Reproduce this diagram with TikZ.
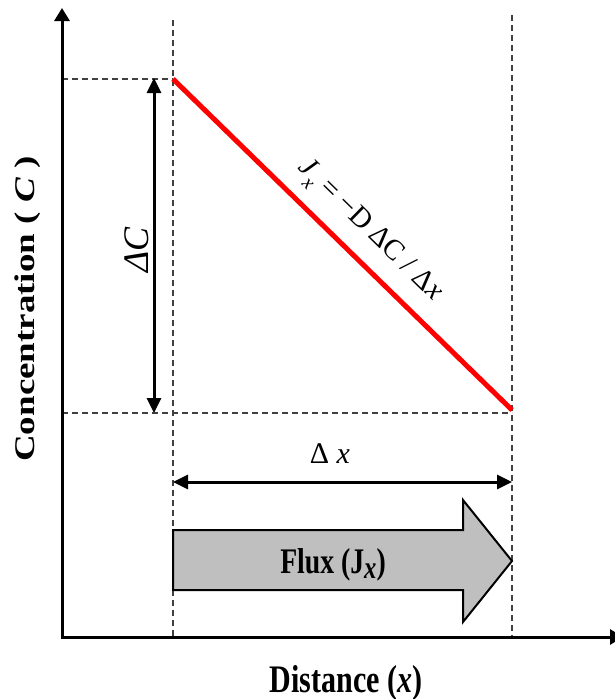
\documentclass[tikz,border=0pt]{standalone}
\usepackage{fontspec}
\setmainfont{Liberation Serif}
\usetikzlibrary{arrows.meta}
\newcommand\squishx[1]{\scalebox{0.77}[1]{#1}}
\newcommand\squishy[1]{\scalebox{1}[0.77]{#1}}
\begin{document}
\begin{tikzpicture}[x=1pt,y=-1pt,
  axisline/.style={line width=3pt, line join=miter,
    {Triangle[length=13pt,width=15pt]}-{Triangle[length=13pt,width=15pt]}},
  guide/.style={line width=1.1pt, draw=black!75, dash pattern=on 6pt off 4pt},
  dimarrow/.style={line width=3pt,
    {Triangle[length=15pt,width=14pt]}-{Triangle[length=15pt,width=14pt]}},
  fluxshape/.style={fill=black!25, draw=black, line width=2pt, line join=miter},
  lbl/.style={inner sep=0pt, text=black}
]
\useasboundingbox (0,0) rectangle (614,699);

% key points
\coordinate (ytop) at (62,8);
\coordinate (origin) at (62,637);
\coordinate (xend) at (623,637);
\coordinate (p1) at (173,79);
\coordinate (p2) at (512,410);
\coordinate (g1top) at (173,20);
\coordinate (g1bot) at (173,637);
\coordinate (g2top) at (512,15);
\coordinate (g2bot) at (512,637);
\coordinate (h1l) at (62,79);
\coordinate (h2l) at (62,413);
\coordinate (h2r) at (512,413);
\coordinate (dcTop) at (154,78);
\coordinate (dcBot) at (154,413);
\coordinate (dxL) at (173,482);
\coordinate (dxR) at (512,482);

% guide lines
\draw[guide] (g1top) -- (g1bot);
\draw[guide] (g2top) -- (g2bot);
\draw[guide] (h1l) -- (p1);
\draw[guide] (h2l) -- (h2r);

% axes
\draw[axisline] (ytop) -- (origin) -- (xend);

% concentration line
\draw[red, line width=5pt] (p1) -- (p2);
\path (p1) -- node[lbl, sloped, above=14pt, pos=0.52] (formula)
  {\fontsize{29}{34}\selectfont \textit{J}\raisebox{-0.3em}{\fontsize{20}{24}\selectfont\textit{x}} = −D ΔC / Δ\textit{x}} (p2);

% dimension arrows
\draw[dimarrow] (dcTop) -- (dcBot);
\draw[dimarrow] (dxL) -- (dxR);

% flux arrow
\draw[fluxshape] (173,530) -- (463,530) -- (463,500) -- (512,561)
  -- (463,622) -- (463,590) -- (173,590) -- cycle;

% labels
\node[lbl, rotate=90] (dC) at (137,250)
  {\fontsize{36}{40}\selectfont\itshape ΔC};
\node[lbl, anchor=base] (dx) at (330,463)
  {\fontsize{30}{34}\selectfont Δ \textit{x}};
\node[lbl, anchor=base] (flux) at (333,573)
  {\squishx{\fontsize{36}{40}\selectfont\bfseries Flux (J\raisebox{-0.15em}{\fontsize{32}{36}\selectfont\textit{x}})}};
\node[lbl, anchor=base] (dist) at (346,692)
  {\squishx{\fontsize{39}{44}\selectfont\bfseries Distance (\textit{x})}};
\node[lbl, rotate=90] (conc) at (28,309)
  {\squishy{\fontsize{37}{42}\selectfont\bfseries Concentration ( \textit{C} )}};
\end{tikzpicture}
\end{document}
